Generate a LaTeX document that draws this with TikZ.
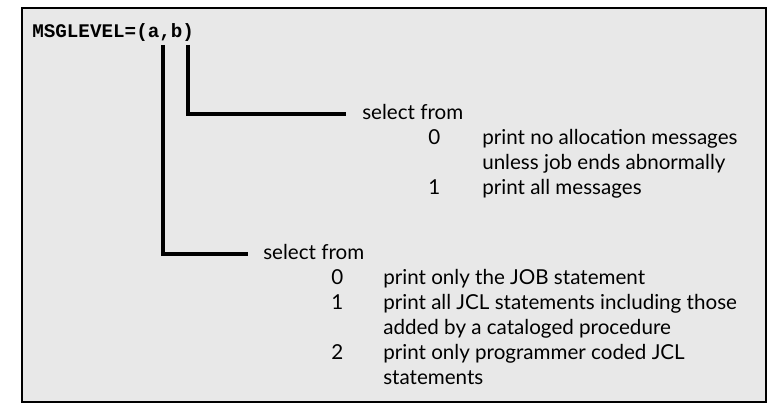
\documentclass[tikz,border=0pt]{standalone}
\usepackage{fontspec}
\setmainfont{Lato}
\setmonofont{Liberation Mono}
\begin{document}
\begin{tikzpicture}[x=0.02646cm,y=-0.02646cm,
  txt/.style={anchor=base west,inner sep=0pt,font=\fontsize{15.5}{18}\selectfont},
  lead/.style={line width=2.5pt}]
\useasboundingbox (0,0) rectangle (774,415);
\draw[fill=gray!18,line width=1pt] (22,8) rectangle (766,402);
\node[anchor=west,inner sep=0pt,font=\ttfamily\bfseries\fontsize{14.5}{17}\selectfont] (code) at (32,33) {MSGLEVEL=(a,b)};
\coordinate (a) at (163,45);
\coordinate (b) at (188,45);
\node[txt] (s1) at (362,120) {select from};
\node[txt] (s2) at (263,260) {select from};
\draw[lead] (b) |- ([xshift=-12,yshift=4.5pt]s1.base west);
\draw[lead] (a) |- ([xshift=-11,yshift=4.5pt]s2.base west);
\foreach \n/\t/\y in {0/print no allocation messages/145,/unless job ends abnormally/170,1/print all messages/195}{
  \node[txt] at (428,\y) {\n};
  \node[txt] at (482,\y) {\t};
}
\foreach \n/\t/\y in {0/print only the JOB statement/285,1/print all JCL statements including those/310,/added by a cataloged procedure/335,2/print only programmer coded JCL/360,/statements/385}{
  \node[txt] at (331,\y) {\n};
  \node[txt] at (383,\y) {\t};
}
\end{tikzpicture}
\end{document}
